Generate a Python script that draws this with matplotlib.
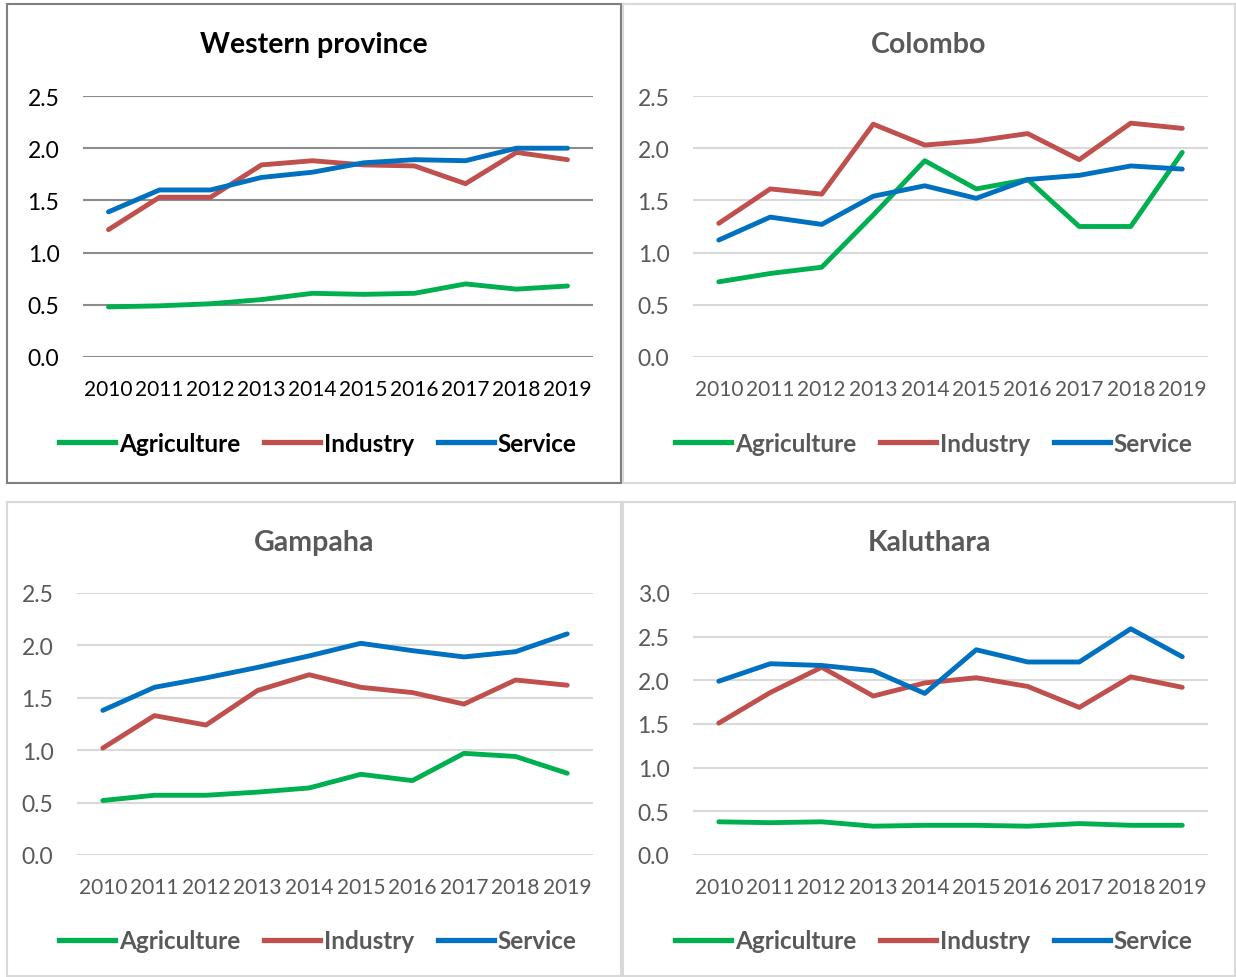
import matplotlib
matplotlib.use("Agg")
import matplotlib.pyplot as plt
from matplotlib.patches import Rectangle
from matplotlib.lines import Line2D

plt.rcParams['font.family'] = ['Lato', 'DejaVu Sans']

years = ["2010", "2011", "2012", "2013", "2014", "2015", "2016", "2017", "2018", "2019"]
series_names = ["Agriculture", "Industry", "Service"]
colors = ["#00B050", "#C0504D", "#0070C0"]

western_agri = [0.48, 0.49, 0.51, 0.55, 0.61, 0.60, 0.61, 0.70, 0.65, 0.68]
western_ind = [1.22, 1.53, 1.53, 1.84, 1.88, 1.84, 1.83, 1.66, 1.96, 1.89]
western_serv = [1.39, 1.60, 1.60, 1.72, 1.77, 1.86, 1.89, 1.88, 2.00, 2.00]

colombo_agri = [0.72, 0.80, 0.86, 1.36, 1.88, 1.61, 1.70, 1.25, 1.25, 1.96]
colombo_ind = [1.28, 1.61, 1.56, 2.23, 2.03, 2.07, 2.14, 1.89, 2.24, 2.19]
colombo_serv = [1.12, 1.34, 1.27, 1.54, 1.64, 1.52, 1.70, 1.74, 1.83, 1.80]

gampaha_agri = [0.52, 0.57, 0.57, 0.60, 0.64, 0.77, 0.71, 0.97, 0.94, 0.78]
gampaha_ind = [1.02, 1.33, 1.24, 1.57, 1.72, 1.60, 1.55, 1.44, 1.67, 1.62]
gampaha_serv = [1.38, 1.60, 1.69, 1.79, 1.90, 2.02, 1.95, 1.89, 1.94, 2.11]

kaluthara_agri = [0.38, 0.37, 0.38, 0.33, 0.34, 0.34, 0.33, 0.36, 0.34, 0.34]
kaluthara_ind = [1.51, 1.86, 2.15, 1.82, 1.97, 2.03, 1.93, 1.69, 2.04, 1.92]
kaluthara_serv = [1.99, 2.19, 2.17, 2.11, 1.85, 2.35, 2.21, 2.21, 2.59, 2.27]

W, H = 1236, 978
fig = plt.figure(figsize=(W / 100, H / 100), dpi=100)


def box(x0, y0, x1, y1):
    return [x0 / W, 1 - y1 / H, (x1 - x0) / W, (y1 - y0) / H]


panels = [
    dict(title="Western province", data=[western_agri, western_ind, western_serv],
         frame=(7, 5, 621, 484), frame_col="#7f7f7f", plot=(83, 97, 593, 358),
         ymax=2.5, text_col="#000000", grid_col="#8c8c8c", title_y=45, leg_y=444, leg_x=318),
    dict(title="Colombo", data=[colombo_agri, colombo_ind, colombo_serv],
         frame=(623, 5, 1235, 484), frame_col="#d9d9d9", plot=(693, 97, 1208, 358),
         ymax=2.5, text_col="#595959", grid_col="#d9d9d9", title_y=45, leg_y=444, leg_x=934),
    dict(title="Gampaha", data=[gampaha_agri, gampaha_ind, gampaha_serv],
         frame=(7, 503, 621, 977), frame_col="#d9d9d9", plot=(77, 594, 593, 856),
         ymax=2.5, text_col="#595959", grid_col="#d9d9d9", title_y=543, leg_y=942, leg_x=318),
    dict(title="Kaluthara", data=[kaluthara_agri, kaluthara_ind, kaluthara_serv],
         frame=(623, 503, 1235, 977), frame_col="#d9d9d9", plot=(693, 594, 1208, 856),
         ymax=3.0, text_col="#595959", grid_col="#d9d9d9", title_y=543, leg_y=942, leg_x=934),
]

for p in panels:
    fx0, fy0, fx1, fy1 = p["frame"]
    fig.patches.append(Rectangle((fx0 / W, 1 - fy1 / H), (fx1 - fx0) / W, (fy1 - fy0) / H,
                                 transform=fig.transFigure, fill=False,
                                 edgecolor=p["frame_col"], linewidth=1.5))
    ax = fig.add_axes(box(*p["plot"]))
    x = list(range(len(years)))
    for vals, col, name in zip(p["data"], colors, series_names):
        ax.plot(x, vals, color=col, linewidth=3.5, solid_capstyle="round",
                solid_joinstyle="round", label=name, zorder=3)
    ax.set_xlim(-0.5, len(years) - 0.5)
    ax.set_ylim(0, p["ymax"])
    ticks = [i * 0.5 for i in range(int(p["ymax"] / 0.5) + 1)]
    ax.set_yticks(ticks)
    ax.set_yticklabels([f"{t:.1f}" for t in ticks])
    ax.set_xticks(x)
    ax.set_xticklabels(years)
    for s in ax.spines.values():
        s.set_visible(False)
    ax.tick_params(axis="both", length=0, colors=p["text_col"])
    ax.tick_params(axis="y", pad=17, labelsize=16.5)
    ax.tick_params(axis="x", pad=16, labelsize=15)
    ax.grid(axis="y", color=p["grid_col"], linewidth=1.5)
    ax.set_axisbelow(True)
    ax.patch.set_alpha(0)
    cx = (fx0 + fx1) / 2
    fig.text(cx / W, 1 - p["title_y"] / H, p["title"], ha="center", va="center",
             fontsize=20.5, fontweight="bold", color=p["text_col"])
    handles = [Line2D([0], [0], color=c, linewidth=3.8) for c in colors]
    leg = fig.legend(handles, series_names, loc="center",
                     bbox_to_anchor=(p["leg_x"] / W, 1 - p["leg_y"] / H),
                     ncol=3, frameon=False, handlelength=2.3, handletextpad=0.15,
                     columnspacing=1.0, prop=dict(size=17.5, weight="bold"))
    for t in leg.get_texts():
        t.set_color(p["text_col"])

fig.savefig("out.png", dpi=100, facecolor="white")
